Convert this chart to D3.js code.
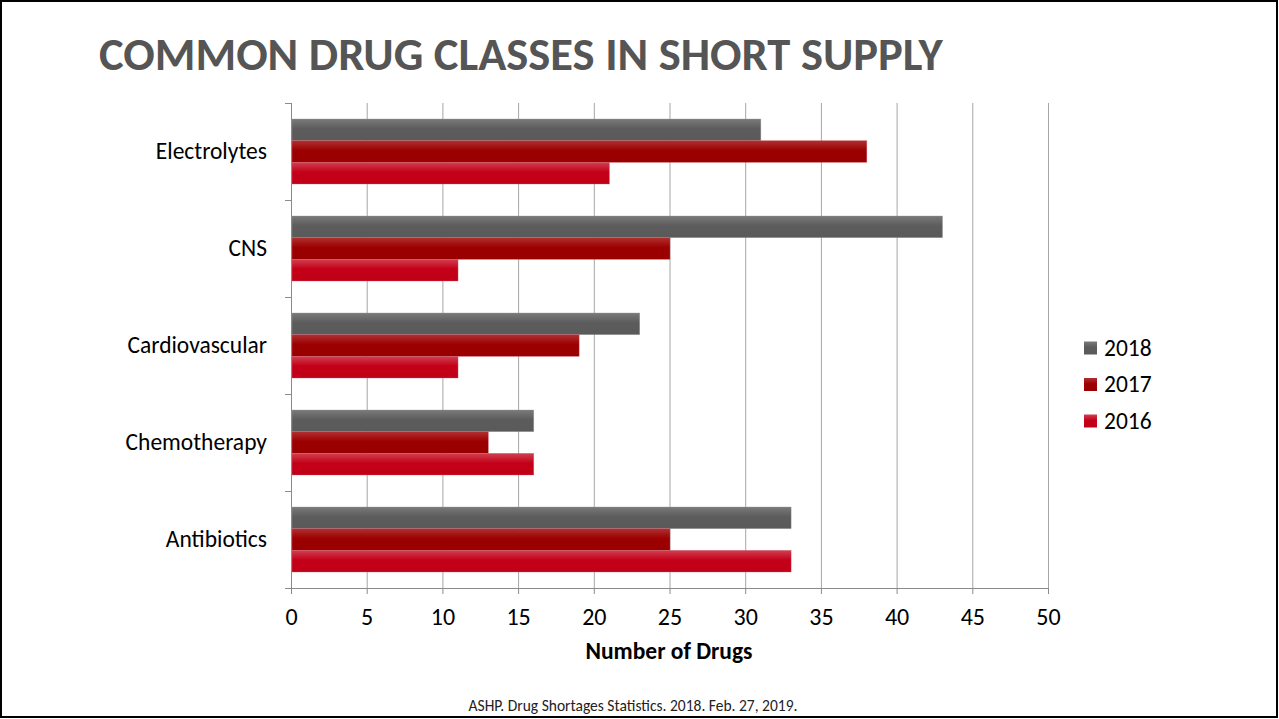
<!DOCTYPE html>
<html>
<head>
<meta charset="utf-8">
<script src="https://cdn.jsdelivr.net/npm/d3@7"></script>
<style>
  body { margin: 0; background: #fff; }
  svg { display: block; }
</style>
</head>
<body>
<div id="canvas"></div>
<script>
"use strict"

// data
let categories = ["Electrolytes", "CNS", "Cardiovascular", "Chemotherapy", "Antibiotics"];
let years = ["2018", "2017", "2016"];
let values2018 = [31, 43, 23, 16, 33];
let values2017 = [38, 25, 19, 13, 25];
let values2016 = [21, 11, 11, 16, 33];
let xTicks = [0, 5, 10, 15, 20, 25, 30, 35, 40, 45, 50];

let seriesValues = [values2018, values2017, values2016];

let width = 1279;
let height = 719;
let fontFamily = "Calibri, Carlito, 'Open Sans', 'Noto Sans', sans-serif";

let svg = d3.select("#canvas")
    .append("svg")
    .attr("width", width)
    .attr("height", height);

// gradients for the bars (light top edge like the office chart)
let defs = svg.append("defs");
let gradColors = [
    ["#7a7a7a", "#5c5c5c", "#5a5a5a"],
    ["#b03030", "#9c0000", "#990000"],
    ["#d04050", "#c40018", "#c00018"]
];
gradColors.forEach(function (c, i) {
    let g = defs.append("linearGradient")
        .attr("id", "grad" + i)
        .attr("x1", 0).attr("y1", 0)
        .attr("x2", 0).attr("y2", 1);
    g.append("stop").attr("offset", "0%").attr("stop-color", c[0]);
    g.append("stop").attr("offset", "45%").attr("stop-color", c[1]);
    g.append("stop").attr("offset", "100%").attr("stop-color", c[2]);
});

// slide frame
svg.append("rect")
    .attr("x", 1)
    .attr("y", 1)
    .attr("width", width - 3)
    .attr("height", height - 3)
    .attr("fill", "none")
    .attr("stroke", "black")
    .attr("stroke-width", 2);

// title
let title = svg.append("text")
    .attr("x", 99)
    .attr("y", 70)
    .attr("font-family", fontFamily)
    .attr("font-weight", "bold")
    .attr("font-size", 40)
    .attr("fill", "#555555")
    .text("COMMON DRUG CLASSES IN SHORT SUPPLY");
// squeeze the title to the width it has in the picture
let titleLen = title.node().getComputedTextLength();
title.attr("font-size", 40 * 844 / titleLen);

// plot area
let plotLeft = 291, plotRight = 1048, plotTop = 103, plotBottom = 588;

let x = d3.scaleLinear()
    .domain([0, 50])
    .range([plotLeft, plotRight]);

let yBand = d3.scaleBand()
    .domain(categories)
    .range([plotTop, plotBottom])
    .paddingInner(0.33)
    .paddingOuter(0.165);

let ySub = d3.scaleBand()
    .domain(years)
    .range([0, yBand.bandwidth()]);

// vertical grid lines
svg.append("g")
    .selectAll("line")
    .data(xTicks)
    .join("line")
    .attr("x1", d => x(d) + 0.5)
    .attr("x2", d => x(d) + 0.5)
    .attr("y1", plotTop)
    .attr("y2", plotBottom)
    .attr("stroke", "#a6a6a6")
    .attr("stroke-width", 1);

// bars
categories.forEach(function (cat, ci) {
    years.forEach(function (yr, si) {
        svg.append("rect")
            .attr("x", x(0) + 1)
            .attr("y", yBand(cat) + ySub(yr))
            .attr("width", x(seriesValues[si][ci]) - x(0) - 0.5)
            .attr("height", ySub.bandwidth())
            .attr("fill", "url(#grad" + si + ")")
            .attr("stroke", si === 0 ? "#9a9a9a" : "#d06070")
            .attr("stroke-opacity", 0.6)
            .attr("stroke-width", 0.6);
    });
});

// x axis
let xAxis = svg.append("g")
    .attr("transform", "translate(0," + plotBottom + ")")
    .call(d3.axisBottom(x).tickValues(xTicks).tickSize(6).tickSizeOuter(0).tickPadding(14));
xAxis.select(".domain").attr("stroke", "#8a8a8a");
xAxis.selectAll(".tick line").attr("stroke", "#8a8a8a");
xAxis.selectAll(".tick text")
    .attr("font-family", fontFamily)
    .attr("font-size", 24)
    .attr("fill", "#000");

// y axis line with boundary ticks
let yEdges = categories.map(c => yBand(c) - yBand.step() * yBand.paddingInner() / 2);
yEdges.push(plotBottom);
svg.append("line")
    .attr("x1", plotLeft + 0.5).attr("x2", plotLeft + 0.5)
    .attr("y1", plotTop).attr("y2", plotBottom)
    .attr("stroke", "#8a8a8a");
svg.append("g")
    .selectAll("line")
    .data(yEdges)
    .join("line")
    .attr("x1", plotLeft - 6)
    .attr("x2", plotLeft)
    .attr("y1", d => Math.round(d) + 0.5)
    .attr("y2", d => Math.round(d) + 0.5)
    .attr("stroke", "#8a8a8a");

// category labels
svg.append("g")
    .selectAll("text")
    .data(categories)
    .join("text")
    .attr("x", 267)
    .attr("y", d => yBand(d) + yBand.bandwidth() / 2)
    .attr("dy", "0.3em")
    .attr("text-anchor", "end")
    .attr("font-family", fontFamily)
    .attr("font-size", 23.5)
    .attr("fill", "#000")
    .text(d => d);

// axis title
svg.append("text")
    .attr("x", 669)
    .attr("y", 659)
    .attr("text-anchor", "middle")
    .attr("font-family", fontFamily)
    .attr("font-weight", "bold")
    .attr("font-size", 23.5)
    .attr("fill", "#000")
    .text("Number of Drugs");

// legend
let legendY = d3.scalePoint()
    .domain(years)
    .range([348, 421]);
let legend = svg.append("g");
years.forEach(function (yr, si) {
    legend.append("rect")
        .attr("x", 1084)
        .attr("y", legendY(yr) - 6.5)
        .attr("width", 13)
        .attr("height", 13)
        .attr("fill", "url(#grad" + si + ")");
    legend.append("text")
        .attr("x", 1104)
        .attr("y", legendY(yr))
        .attr("dy", "0.33em")
        .attr("font-family", fontFamily)
        .attr("font-size", 23.5)
        .attr("fill", "#000")
        .text(yr);
});

// source footnote
svg.append("text")
    .attr("x", 633)
    .attr("y", 711)
    .attr("text-anchor", "middle")
    .attr("font-family", fontFamily)
    .attr("font-size", 15.5)
    .attr("fill", "#222")
    .text("ASHP. Drug Shortages Statistics. 2018. Feb. 27, 2019.");
</script>
</body>
</html>
